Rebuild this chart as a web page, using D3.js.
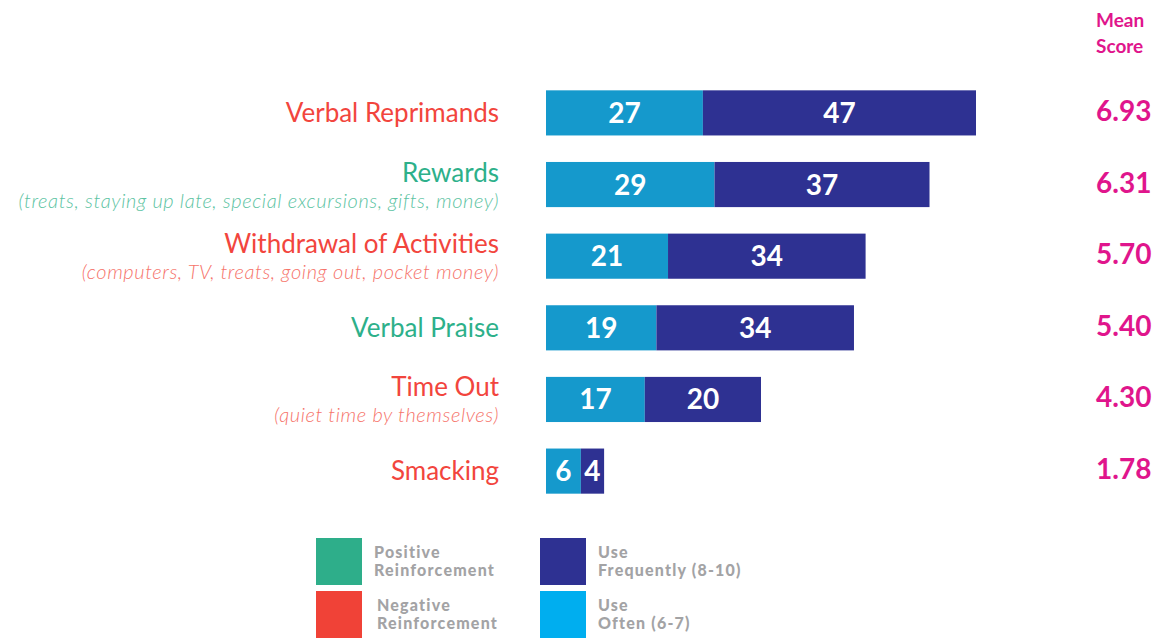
<!DOCTYPE html>
<html>
<head>
<meta charset="utf-8">
<script src="https://cdn.jsdelivr.net/npm/d3@7"></script>
<style>
  body { margin: 0; background: #fff; }
  svg { display: block; }
</style>
</head>
<body>
<figure id="discipline" style="margin:0"></figure>
<script>
// chart data
var categories = ["Verbal Reprimands", "Rewards", "Withdrawal of Activities", "Verbal Praise", "Time Out", "Smacking"];
var subtitles = ["", "(treats, staying up late, special excursions, gifts, money)", "(computers, TV, treats, going out, pocket money)", "", "(quiet time by themselves)", ""];
var kinds = ["neg", "pos", "neg", "pos", "neg", "neg"];
var useOften = [27, 29, 21, 19, 17, 6];
var useFrequently = [47, 37, 34, 34, 20, 4];
var meanScores = ["6.93", "6.31", "5.70", "5.40", "4.30", "1.78"];
var seriesKeys = ["often", "frequently"];

var width = 1156, height = 638;

var svg = d3.select("figure#discipline")
  .append("svg")
  .attr("width", width)
  .attr("height", height);

// colours
var labelColor = {pos: "#2db08a", neg: "#f2453d"};
var subColor = {pos: "#5cc3a2", neg: "#f6736a"};
var barColor = {often: "#1599cc", frequently: "#2e3192"};

var rows = categories.map(function(c, i) {
  return {name: c, sub: subtitles[i], kind: kinds[i], often: useOften[i], frequently: useFrequently[i], mean: meanScores[i]};
});

var stack = d3.stack().keys(seriesKeys);
var series = stack(rows);

var y = d3.scaleBand()
  .domain(categories)
  .range([76, 508])
  .paddingInner(0.37)
  .paddingOuter(0.2);

var x = d3.scaleLinear()
  .domain([0, 74])
  .range([546, 976]);

// bars
var groups = svg.selectAll("g.series")
  .data(series)
  .enter()
  .append("g")
  .attr("class", "series")
  .style("fill", function(d) { return barColor[d.key]; });

groups.selectAll("rect")
  .data(function(d) { return d; })
  .enter()
  .append("rect")
  .attr("x", function(d) { return x(d[0]); })
  .attr("y", function(d) { return y(d.data.name); })
  .attr("width", function(d) { return x(d[1]) - x(d[0]); })
  .attr("height", y.bandwidth());

// values inside bars
groups.selectAll("text")
  .data(function(d) { return d; })
  .enter()
  .append("text")
  .attr("x", function(d) { return (x(d[0]) + x(d[1])) / 2; })
  .attr("y", function(d) { return y(d.data.name) + y.bandwidth() / 2 + 10; })
  .attr("text-anchor", "middle")
  .style("font-family", "Lato")
  .style("font-weight", 700)
  .style("font-size", "28px")
  .style("fill", "#fff")
  .text(function(d) { return d[1] - d[0]; });

// category labels
var labels = svg.append("g").selectAll("g")
  .data(rows)
  .enter()
  .append("g")
  .attr("transform", function(d) { return "translate(499," + (y(d.name) + y.bandwidth() / 2) + ")"; });

labels.append("text")
  .attr("y", function(d) { return d.sub ? -3 : 9; })
  .attr("text-anchor", "end")
  .style("font-family", "Lato")
  .style("font-size", "26px")
  .style("fill", function(d) { return labelColor[d.kind]; })
  .text(function(d) { return d.name; });

labels.append("text")
  .attr("y", 23)
  .attr("text-anchor", "end")
  .style("font-family", "Lato")
  .style("font-style", "italic")
  .style("font-weight", 300)
  .style("font-size", "20px")
  .style("letter-spacing", "0.6px")
  .style("fill", function(d) { return subColor[d.kind]; })
  .text(function(d) { return d.sub; });

// mean score column
var meanColor = "#e0158c";
svg.append("text")
  .attr("x", 1096)
  .attr("y", 27)
  .style("font-family", "Lato")
  .style("font-weight", 700)
  .style("font-size", "19px")
  .style("fill", meanColor)
  .text("Mean");
svg.append("text")
  .attr("x", 1096)
  .attr("y", 53)
  .style("font-family", "Lato")
  .style("font-weight", 700)
  .style("font-size", "19px")
  .style("fill", meanColor)
  .text("Score");

svg.append("g").selectAll("text")
  .data(rows)
  .enter()
  .append("text")
  .attr("x", 1096)
  .attr("y", function(d) { return y(d.name) + y.bandwidth() / 2 + 8; })
  .style("font-family", "Lato")
  .style("font-weight", 700)
  .style("font-size", "28px")
  .style("fill", meanColor)
  .text(function(d) { return d.mean; });

// legend
var legendItems = [
  {color: "#2eae8a", lines: ["Positive", "Reinforcement"], x: 316, y: 538, tx: 374},
  {color: "#f04237", lines: ["Negative", "Reinforcement"], x: 316, y: 591, tx: 377},
  {color: "#2e3192", lines: ["Use", "Frequently (8-10)"], x: 540, y: 538, tx: 598},
  {color: "#00aeef", lines: ["Use", "Often (6-7)"], x: 540, y: 591, tx: 598}
];

var legend = svg.append("g").selectAll("g")
  .data(legendItems)
  .enter()
  .append("g");

legend.append("rect")
  .attr("x", function(d) { return d.x; })
  .attr("y", function(d) { return d.y; })
  .attr("width", 46)
  .attr("height", 47)
  .style("fill", function(d) { return d.color; });

legend.each(function(d) {
  d3.select(this).selectAll("text")
    .data(d.lines)
    .enter()
    .append("text")
    .attr("x", d.tx)
    .attr("y", function(t, i) { return d.y + 20 + i * 18; })
    .style("font-family", "Lato")
    .style("font-weight", 900)
    .style("font-size", "16px")
    .style("letter-spacing", "1.2px")
    .style("fill", "#a3a3a5")
    .text(function(t) { return t; });
});
</script>
</body>
</html>
